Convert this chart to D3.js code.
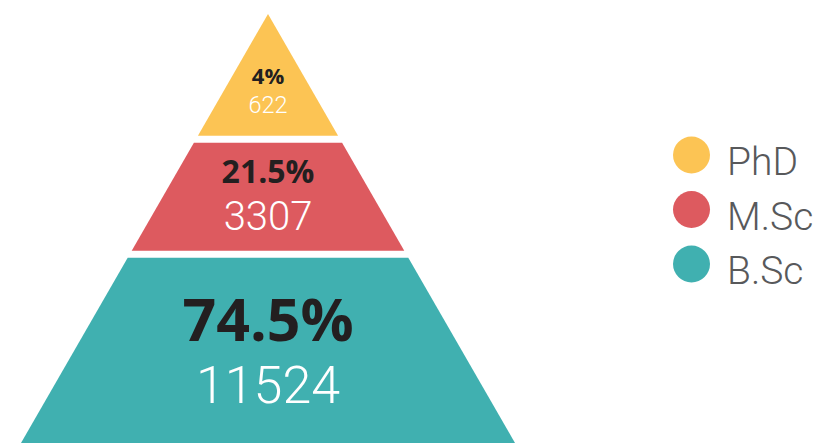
<!DOCTYPE html>
<html>
<head>
<meta charset="utf-8">
<script src="https://cdn.jsdelivr.net/npm/d3@7"></script>
<style>
  body { margin: 0; background: #fff; }
  .pct { font-family: "Open Sans", sans-serif; font-weight: 700; fill: #231f20; }
  .num { font-family: Roboto, sans-serif; font-weight: 300; fill: #fff; }
  .legend-text { font-family: Roboto, sans-serif; font-weight: 300; fill: #58595b; }
</style>
</head>
<body>
<div id="vis"></div>
<script>
// Chart data (top to bottom of the pyramid)
const LEVELS = ["PhD", "M.Sc", "B.Sc"];
const COUNTS = [622, 3307, 11524];
const PERCENTS = ["4%", "21.5%", "74.5%"];
const COLORS = ["#fcc454", "#dd5a5f", "#40b0b0"];

// Frame and layout
const FRAME_WIDTH = 817;
const FRAME_HEIGHT = 443;
const APEX_X = 268;
const GAP = 7;
const SLOPE = 247 / 429; // half width per pixel of height

// level index -> vertical position (boundaries between levels)
const Y_SCALE = d3.scaleLinear()
                  .domain([0, 1, 2, 3])
                  .range([14, 139.2, 254.2, 452]);

// text styling per level
const PCT_SIZE = [22, 32, 59];
const NUM_SIZE = [23.5, 40, 52];
const PCT_BASE = [83.5, 182.5, 340.5];
const NUM_BASE = [113.3, 230, 403.3];

const FRAME = d3.select("#vis")
                .append("svg")
                .attr("width", FRAME_WIDTH)
                .attr("height", FRAME_HEIGHT);

const data = LEVELS.map((d, i) => ({level: d, count: COUNTS[i], pct: PERCENTS[i], color: COLORS[i], i: i}));

// half width of the pyramid at a given y
function halfWidth(y) { return (y - Y_SCALE(0)) * SLOPE; }

// pyramid segments
FRAME.selectAll("path.seg")
     .data(data)
     .enter()
     .append("path")
     .attr("class", "seg")
     .attr("fill", d => d.color)
     .attr("d", d => {
        const y0 = d.i === 0 ? Y_SCALE(0) : Y_SCALE(d.i) + GAP / 2;
        const y1 = Y_SCALE(d.i + 1) - (d.i === LEVELS.length - 1 ? 0 : GAP / 2);
        const w0 = halfWidth(y0), w1 = halfWidth(y1);
        return "M" + (APEX_X - w0) + "," + y0 +
               "L" + (APEX_X + w0) + "," + y0 +
               "L" + (APEX_X + w1) + "," + y1 +
               "L" + (APEX_X - w1) + "," + y1 + "Z";
     });

// percentage labels
FRAME.selectAll("text.pct")
     .data(data)
     .enter()
     .append("text")
     .attr("class", "pct")
     .attr("x", APEX_X)
     .attr("y", d => PCT_BASE[d.i])
     .attr("text-anchor", "middle")
     .style("font-size", d => PCT_SIZE[d.i] + "px")
     .text(d => d.pct);

// count labels
FRAME.selectAll("text.num")
     .data(data)
     .enter()
     .append("text")
     .attr("class", "num")
     .attr("x", APEX_X)
     .attr("y", d => NUM_BASE[d.i])
     .attr("text-anchor", "middle")
     .style("font-size", d => NUM_SIZE[d.i] + "px")
     .text(d => d.count);

// legend
const LEGEND_Y = d3.scalePoint()
                   .domain(LEVELS)
                   .range([155, 264]);

const legend = FRAME.selectAll("g.legend")
                    .data(data)
                    .enter()
                    .append("g")
                    .attr("class", "legend")
                    .attr("transform", d => "translate(691.5," + LEGEND_Y(d.level) + ")");

legend.append("circle")
      .attr("r", 18.5)
      .attr("fill", d => d.color);

legend.append("text")
      .attr("class", "legend-text")
      .attr("x", 35.5)
      .attr("y", 20)
      .style("font-size", "39px")
      .text(d => d.level);
</script>
</body>
</html>
